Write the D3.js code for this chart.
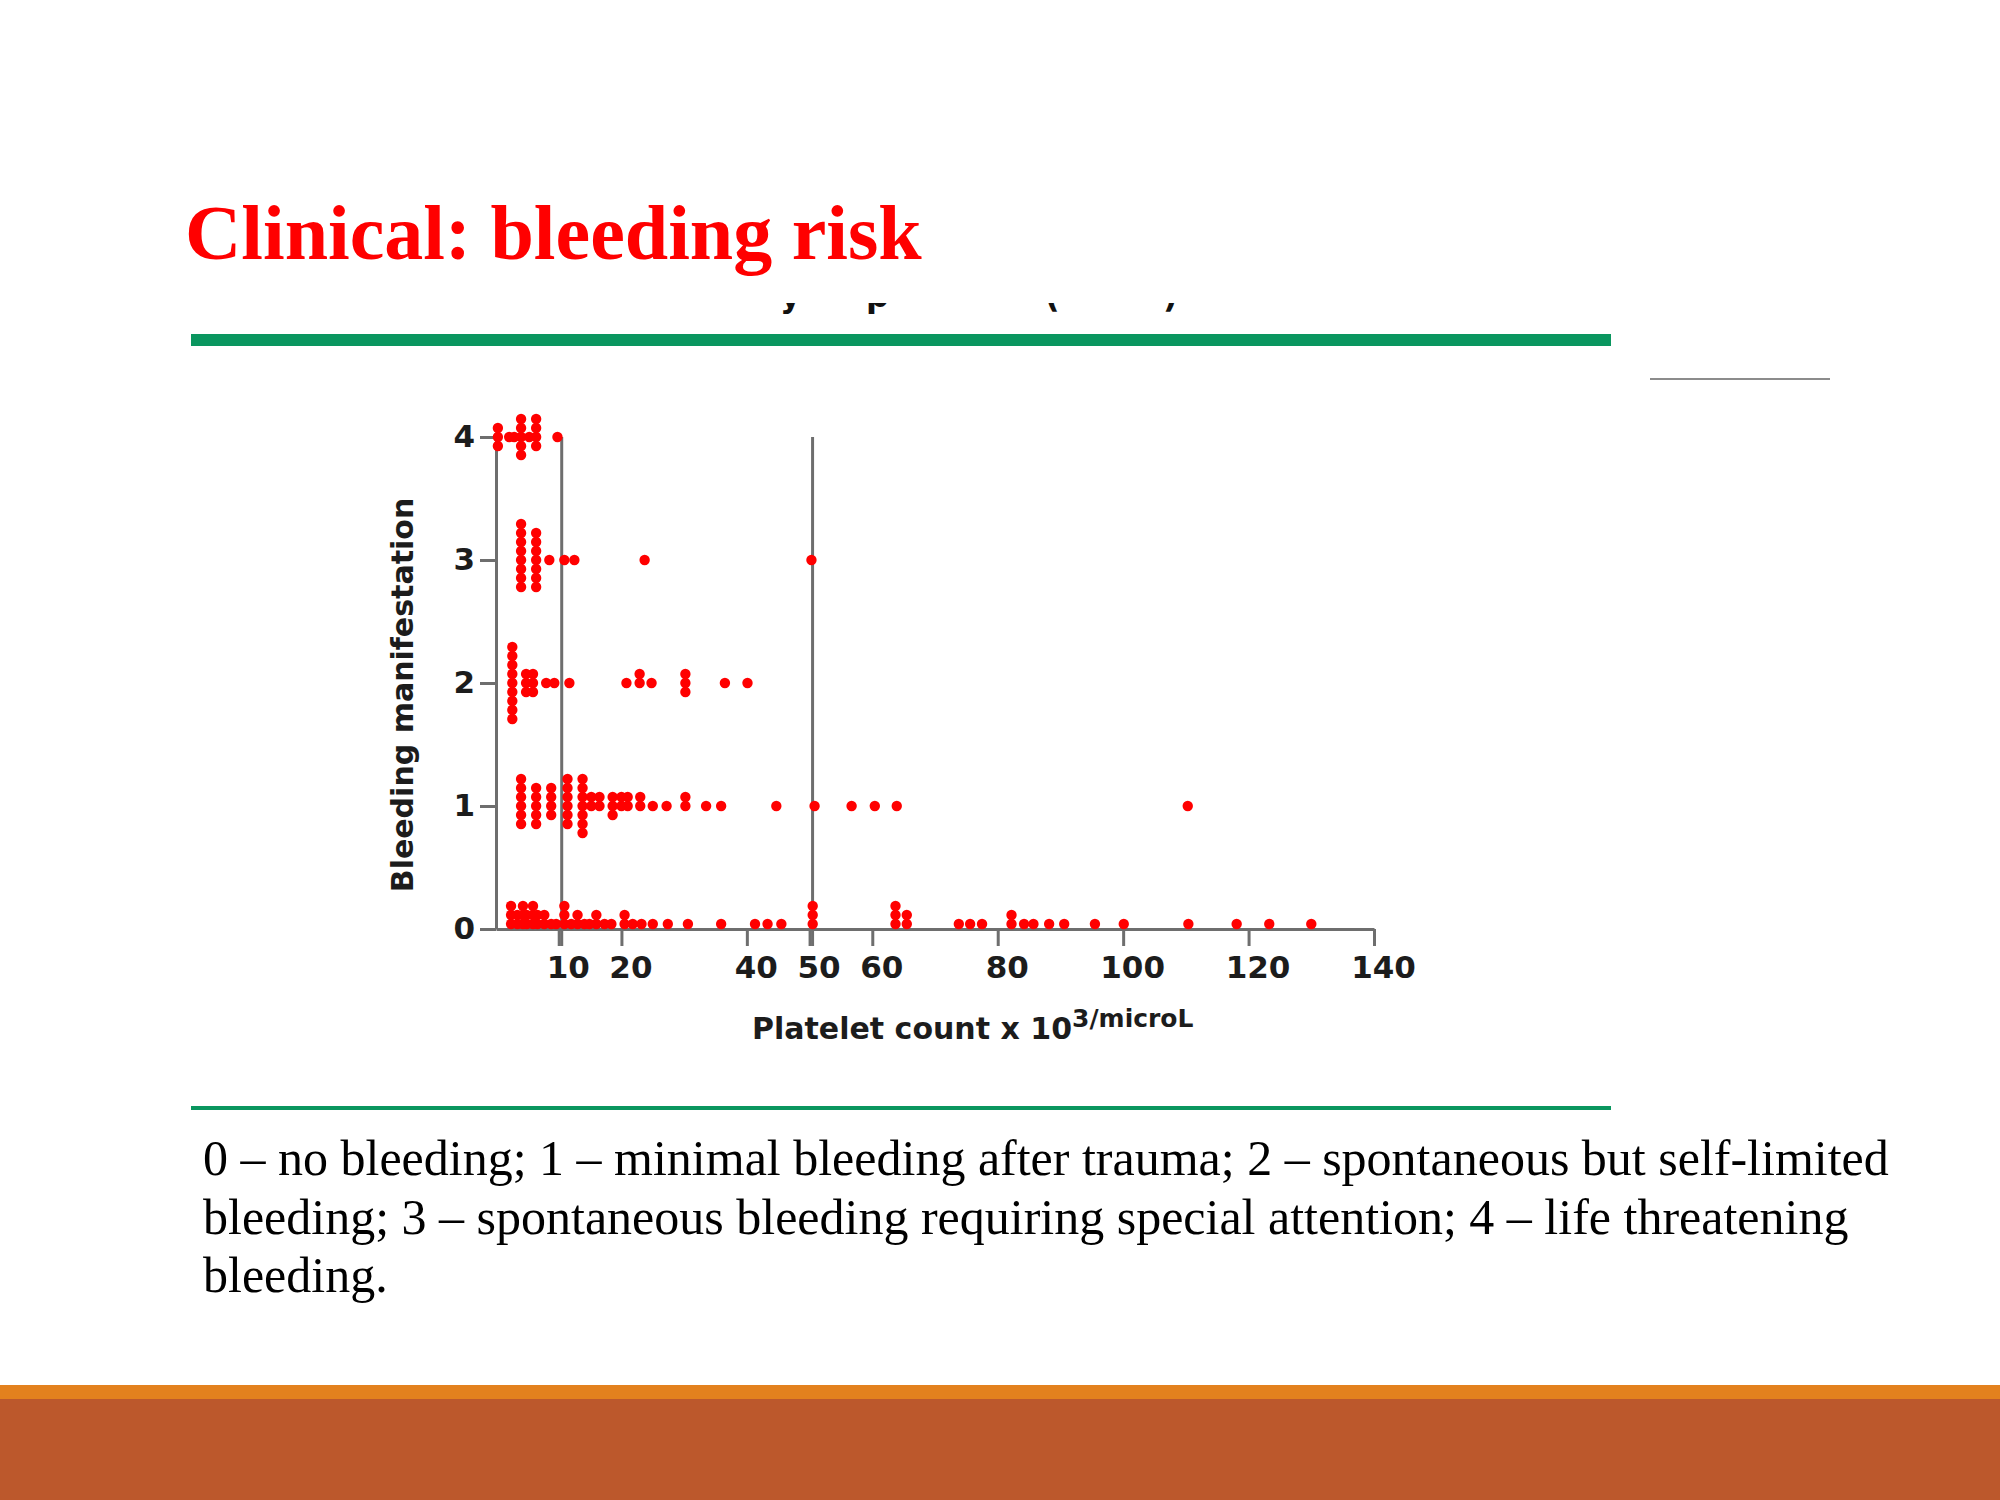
<!DOCTYPE html>
<html>
<head>
<meta charset="utf-8">
<script src="https://cdn.jsdelivr.net/npm/d3@7/dist/d3.min.js"></script>
<style>
  html, body { margin: 0; padding: 0; background: #fff; }
  svg { display: block; }
</style>
</head>
<body>
<div id="chart"></div>
<script>
// platelet counts (x10^3/microL) for each bleeding grade
const grade0 = [2.4, 2.4, 2.4, 3.4, 3.4, 4.3, 4.3, 4.3, 4.9, 4.9, 5.9, 5.9, 5.9, 6.6, 6.6, 7.7, 7.7,
  8.8, 9.6, 10.9, 10.9, 10.9, 12, 13, 13, 14.1, 14.9, 16, 16, 17.3, 18.4, 20.5, 20.5, 21.8, 23.2,
  25, 27.4, 30.6, 35.9, 41.3, 43.3, 45.5, 50.5, 50.5, 50.5, 63.7, 63.7, 63.7, 65.5, 65.5,
  73.8, 75.6, 77.5, 82.2, 82.2, 84.2, 85.7, 88.2, 90.6, 95.5, 100.1, 110.4, 118.1, 123.3, 130];
const grade1 = [4, 4, 4, 4, 4, 4, 6.4, 6.4, 6.4, 6.4, 6.4, 8.8, 8.8, 8.8, 8.8,
  11.4, 11.4, 11.4, 11.4, 11.4, 11.4, 13.8, 13.8, 13.8, 13.8, 13.8, 13.8, 13.8,
  15.2, 15.2, 16.5, 16.5, 18.6, 18.6, 18.6, 20, 20, 21, 21, 23, 23, 25, 27.2, 30.2, 30.2,
  33.5, 35.9, 44.7, 50.8, 56.7, 60.4, 63.9, 110.3];
const grade2 = [2.6, 2.6, 2.6, 2.6, 2.6, 2.6, 2.6, 2.6, 2.6, 4.8, 4.8, 4.8, 5.9, 5.9, 5.9,
  8, 9.3, 11.7, 20.8, 22.9, 22.9, 24.8, 30.2, 30.2, 30.2, 36.5, 40.1];
const grade3 = [4, 4, 4, 4, 4, 4, 4, 4, 6.4, 6.4, 6.4, 6.4, 6.4, 6.4, 6.4, 8.5, 10.9, 12.5, 23.7, 50.3];
const grade4 = [0.3, 0.3, 0.3, 2.1, 2.9, 4, 4, 4, 4, 4, 5.3, 6.4, 6.4, 6.4, 6.4, 9.8];

const grades = [0, 1, 2, 3, 4];
const xTicks = [10, 20, 40, 50, 60, 80, 100, 120, 140];
const cutoffs = [10, 50];
const footnote = [
  '0 – no bleeding; 1 – minimal bleeding after trauma; 2 – spontaneous but self-limited',
  'bleeding; 3 – spontaneous bleeding requiring special attention; 4 – life threatening',
  'bleeding.'
];

const width = 2000, height = 1500;
const axisColor = '#6e6e6e';
const green = '#0a965f';

const svg = d3.select('#chart')
  .append('svg')
  .attr('width', width)
  .attr('height', height)
  .attr('viewBox', [0, 0, width, height]);

svg.append('rect').attr('width', width).attr('height', height).attr('fill', '#fff');

// slide title
svg.append('text')
  .attr('x', 185)
  .attr('y', 259)
  .attr('fill', '#ff0000')
  .attr('font-family', '"Liberation Serif", "Times New Roman", serif')
  .attr('font-weight', 'bold')
  .attr('font-size', 78)
  .text('Clinical: bleeding risk');

// bottom of the original figure caption, cut off by the crop
svg.append('clipPath').attr('id', 'cut')
  .append('rect').attr('x', 700).attr('y', 303).attr('width', 600).attr('height', 14);
svg.append('g')
  .attr('clip-path', 'url(#cut)')
  .selectAll('text')
  .data([['y', 780], ['p', 866], ['(', 1045], [')', 1163]])
  .join('text')
  .attr('x', d => d[1])
  .attr('y', 307)
  .attr('font-family', '"DejaVu Sans", Verdana, sans-serif')
  .attr('font-weight', 'bold')
  .attr('font-size', 32)
  .attr('fill', '#111')
  .text(d => d[0]);

// green rules
svg.append('rect').attr('x', 191).attr('y', 334).attr('width', 1420).attr('height', 12).attr('fill', green);
svg.append('rect').attr('x', 191).attr('y', 1106).attr('width', 1420).attr('height', 4).attr('fill', green);
svg.append('line')
  .attr('x1', 1650).attr('x2', 1830).attr('y1', 379).attr('y2', 379)
  .attr('stroke', '#666').attr('stroke-width', 1.5);

// scales
const x = d3.scaleLinear().domain([0, 140]).range([496, 1374]);
const y = d3.scaleLinear().domain([0, 4]).range([929, 437]);

const tickFont = '"DejaVu Sans", Verdana, sans-serif';

// x axis
const gx = svg.append('g')
  .attr('transform', `translate(0,${y(0)})`)
  .call(d3.axisBottom(x).tickValues(xTicks).tickSize(17).tickSizeOuter(0).tickPadding(10));
gx.selectAll('.tick text').attr('dx', 9);

// y axis
const gy = svg.append('g')
  .attr('transform', `translate(${x(0)},0)`)
  .call(d3.axisLeft(y).tickValues(grades).tickSize(16).tickSizeOuter(0).tickPadding(5).tickFormat(d3.format('d')));

[gx, gy].forEach(g => {
  g.select('.domain').attr('stroke', axisColor).attr('stroke-width', 3);
  g.selectAll('.tick line').attr('stroke', axisColor).attr('stroke-width', 3);
  g.selectAll('.tick text')
    .attr('fill', '#1c1c1c')
    .attr('font-family', tickFont)
    .attr('font-weight', 'bold')
    .attr('font-size', 31);
});

// cut-off lines at 10 and 50
svg.append('g')
  .selectAll('line')
  .data(cutoffs)
  .join('line')
  .attr('x1', d => x(d) + 3).attr('x2', d => x(d) + 3)
  .attr('y1', y(4)).attr('y2', y(0) + 17)
  .attr('stroke', axisColor)
  .attr('stroke-width', 3);

// axis titles
const xTitle = svg.append('text')
  .attr('x', 752)
  .attr('y', 1039)
  .attr('fill', '#1c1c1c')
  .attr('font-family', tickFont)
  .attr('font-weight', 'bold')
  .attr('font-size', 30);
xTitle.append('tspan').text('Platelet count x 10');
xTitle.append('tspan').attr('dy', -12).attr('font-size', 25).text('3/microL');

svg.append('text')
  .attr('transform', `translate(413,${(y(0) + y(4)) / 2 + 12}) rotate(-90)`)
  .attr('text-anchor', 'middle')
  .attr('fill', '#1c1c1c')
  .attr('font-family', tickFont)
  .attr('font-weight', 'bold')
  .attr('font-size', 30)
  .text('Bleeding manifestation');

// dots: equal counts stack into a column around their grade
const step = 9;
function stack(values, grade) {
  const seen = new Map();
  return values.map(v => {
    const k = seen.get(v) || 0;
    seen.set(v, k + 1);
    let off;
    if (grade === 0) off = -k;
    else off = k === 0 ? 0 : (k % 2 ? -Math.ceil(k / 2) : Math.ceil(k / 2));
    return { v, grade, off };
  });
}

const dots = [
  ...stack(grade0, 0),
  ...stack(grade1, 1),
  ...stack(grade2, 2),
  ...stack(grade3, 3),
  ...stack(grade4, 4)
];

svg.append('g')
  .selectAll('circle')
  .data(dots)
  .join('circle')
  .attr('cx', d => x(d.v))
  .attr('cy', d => y(d.grade) + d.off * step - (d.grade === 0 ? 5 : 0))
  .attr('r', 5.2)
  .attr('fill', '#ff0000');

// footnote
svg.append('g')
  .selectAll('text')
  .data(footnote)
  .join('text')
  .attr('x', 203)
  .attr('y', (d, i) => 1175 + i * 58.5)
  .attr('fill', '#000')
  .attr('font-family', '"Liberation Serif", "Times New Roman", serif')
  .attr('font-size', 50)
  .text(d => d);

// bottom bands
svg.append('rect').attr('x', 0).attr('y', 1385).attr('width', width).attr('height', 15).attr('fill', '#e3811e');
svg.append('rect').attr('x', 0).attr('y', 1399).attr('width', width).attr('height', 101).attr('fill', '#bc582c');
</script>
</body>
</html>
